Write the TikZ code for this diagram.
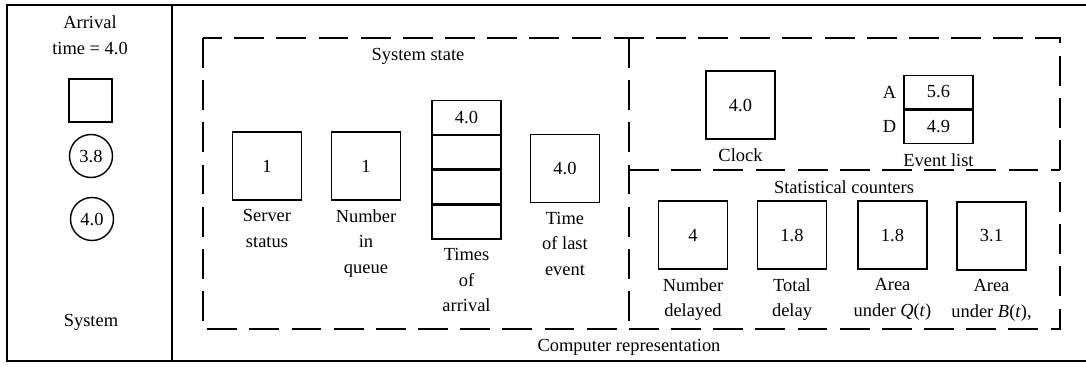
\documentclass[tikz,border=0pt]{standalone}
\usepackage{fontspec}
\setmainfont{Liberation Serif}
\usetikzlibrary{positioning}

\begin{document}
\begin{tikzpicture}[x=0.02cm, y=-0.02cm,
    valbox/.style={draw, thick, minimum width=1.38cm, minimum height=1.36cm},
    cell/.style={draw, thick, minimum width=1.38cm, minimum height=0.67cm},
    ring/.style={draw, thick, circle, minimum size=0.86cm, inner sep=0pt},
    lbl/.style={align=center, inner sep=0pt},
    region/.style={thick, dash pattern=on 17pt off 7pt},
    font=\fontsize{10.5}{14.5}\selectfont]
    \useasboundingbox (0,0) rectangle (1086,366);

    % outer frame
    \draw[line width=1.2pt] (1086,5) -- (7,5) -- (7,361) -- (1086,361);
    \draw[line width=1.2pt] (172,5) -- (172,361);

    % system side
    \node[lbl] (arrtime) at (90,35) {Arrival\\time = 4.0};
    \node[draw, thick, minimum size=0.86cm] (srvsys) at (90.5,100.5) {};
    \node[ring] (cust1) at (91,156) {3.8};
    \node[ring] (cust2) at (92,219) {4.0};
    \node (syslbl) at (91,322) {System};

    % computer representation
    \draw[region] (203,38) rectangle (1060,329);
    \draw[region] (629,38) -- (629,329);
    \draw[region] (629,170) -- (1060,170);
    \node (comprep) at (629,347) {Computer representation};

    % system state
    \node (sstate) at (418,56) {System state};
    \node[valbox] (srv) at (267,166) {1};
    \node[lbl, below=0.17cm of srv] (srvlbl) {Server\\status};
    \node[valbox] (nq) at (366,166) {1};
    \node[lbl, below=0.17cm of nq] (nqlbl) {Number\\in\\queue};
    \node[cell] (arr1) at (466.5,117.5) {4.0};
    \foreach \i [count=\j from 1] in {2,3,4}
        \node[cell, below=0pt of arr\j] (arr\i) {};
    \node[lbl, below=0.17cm of arr4] (arrlbl) {Times\\of\\arrival};
    \node[valbox] (tle) at (565,168.5) {4.0};
    \node[lbl, below=0.17cm of tle] (tlelbl) {Time\\of last\\event};

    % clock and event list
    \node[valbox] (clk) at (740.5,105) {4.0};
    \node[lbl, below=0.17cm of clk] (clklbl) {Clock};
    \node[cell] (evA) at (938.5,92) {5.6};
    \node[cell, below=0pt of evA] (evD) {4.9};
    \node[left=0.02cm of evA] (evAlbl) {A};
    \node[left=0.02cm of evD] (evDlbl) {D};
    \node[lbl, below=0.17cm of evD] (evlbl) {Event list};

    % statistical counters
    \node (stats) at (844,187) {Statistical counters};
    \node[valbox] (ndel) at (693,235) {4};
    \node[lbl, below=0.17cm of ndel] (ndellbl) {Number\\delayed};
    \node[valbox] (tdel) at (792,235) {1.8};
    \node[lbl, below=0.17cm of tdel] (tdellbl) {Total\\delay};
    \node[valbox] (areaq) at (892.5,235) {1.8};
    \node[lbl, below=0.17cm of areaq] (areaqlbl) {Area\\under \textit{Q}(\textit{t})};
    \node[valbox] (areab) at (991.5,236) {3.1};
    \node[lbl, below=0.17cm of areab] (areablbl) {Area\\under \textit{B}(\textit{t}),};
\end{tikzpicture}
\end{document}
